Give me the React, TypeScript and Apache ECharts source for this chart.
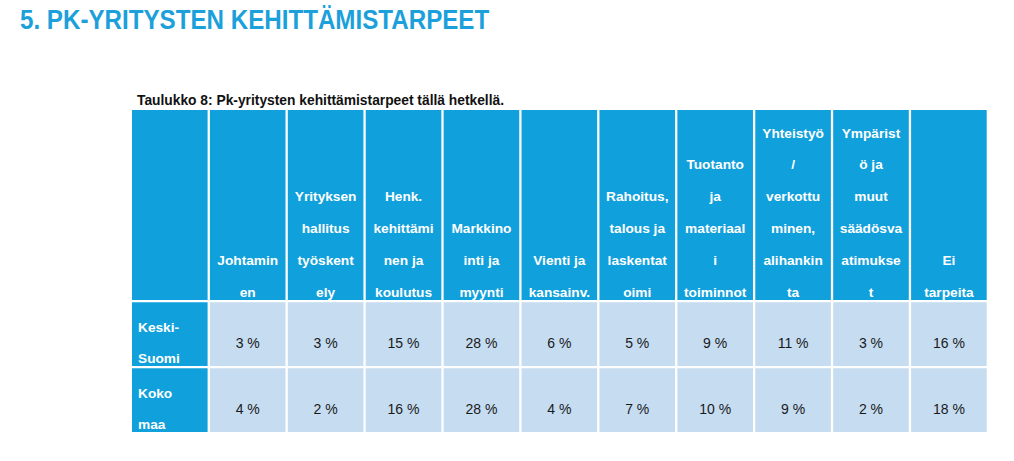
import React, { useEffect, useRef } from "react";
import * as echarts from "echarts";

const TITLE = "5. PK-YRITYSTEN KEHITTÄMISTARPEET";
const CAPTION = "Taulukko 8: Pk-yritysten kehittämistarpeet tällä hetkellä.";

const headers = [
  "Johtamin\nen",
  "Yrityksen\nhallitus\ntyöskent\nely",
  "Henk.\nkehittämi\nnen ja\nkoulutus",
  "Markkino\ninti ja\nmyynti",
  "Vienti ja\nkansainv.",
  "Rahoitus,\ntalous ja\nlaskentat\noimi",
  "Tuotanto\nja\nmateriaal\ni\ntoiminnot",
  "Yhteistyö\n/\nverkottu\nminen,\nalihankin\nta",
  "Ympärist\nö ja\nmuut\nsäädösva\natimukse\nt",
  "Ei\ntarpeita",
];

const rowLabels = ["Keski-\nSuomi", "Koko\nmaa"];
const keskiSuomi = [3, 3, 15, 28, 6, 5, 9, 11, 3, 16];
const kokoMaa = [4, 2, 16, 28, 4, 7, 10, 9, 2, 18];
const rows = [keskiSuomi, kokoMaa];

const HEAD_BLUE = "#10A0DB";
const CELL_BLUE = "#C5DCF1";
const GAP = 2.3;
const FONT = "'Liberation Sans', Arial, sans-serif";

export default function App() {
  const ref = useRef<HTMLDivElement>(null);
  useEffect(() => {
    const chart = echarts.init(ref.current!, null, { renderer: "svg" });
    const columns = ["", ...headers];

    const headerData = columns.map((_, i) => [i, 0]);
    const bodyData: number[][] = [];
    rows.forEach((_, r) => {
      columns.forEach((_, c) => bodyData.push([c, r]));
    });

    chart.setOption({
      animation: false,
      grid: [
        { left: 132, width: 857, top: 110, height: 192.3 },
        { left: 132, width: 857, top: 302.3, height: 132 },
      ],
      xAxis: [
        { type: "category", gridIndex: 0, data: columns, show: false },
        { type: "category", gridIndex: 1, data: columns, show: false },
      ],
      yAxis: [
        { type: "category", gridIndex: 0, data: ["header"], show: false },
        { type: "category", gridIndex: 1, data: rowLabels, inverse: true, show: false },
      ],
      graphic: [
        {
          type: "text",
          x: 20,
          y: 19.5,
          scaleX: 0.863,
          style: {
            text: TITLE,
            fill: "#1BA0DB",
            font: `bold 28px ${FONT}`,
            verticalAlign: "middle",
            align: "left",
          },
        },
        {
          type: "text",
          x: 137,
          y: 100,
          style: {
            text: CAPTION,
            fill: "#111111",
            font: `bold 13.8px ${FONT}`,
            verticalAlign: "middle",
            align: "left",
          },
        },
      ],
      series: [
        {
          type: "custom",
          xAxisIndex: 0,
          yAxisIndex: 0,
          data: headerData,
          renderItem: (params: any, api: any) => {
            const col = api.value(0);
            const c = api.coord([col, 0]);
            const s = api.size([1, 1]);
            const x0 = c[0] - s[0] / 2;
            const y0 = c[1] - s[1] / 2;
            const w = s[0] - GAP;
            const h = s[1] - GAP;
            const label = columns[col];
            return {
              type: "group",
              children: [
                { type: "rect", shape: { x: x0, y: y0, width: w, height: h }, style: { fill: HEAD_BLUE } },
                {
                  type: "text",
                  x: x0 + w / 2,
                  y: y0 + h + 8,
                  style: {
                    text: label,
                    fill: "#ffffff",
                    font: `bold 13.7px ${FONT}`,
                    lineHeight: 31.8,
                    align: "center",
                    verticalAlign: "bottom",
                  },
                },
              ],
            };
          },
        },
        {
          type: "custom",
          xAxisIndex: 1,
          yAxisIndex: 1,
          data: bodyData,
          renderItem: (params: any, api: any) => {
            const col = api.value(0);
            const row = api.value(1);
            const c = api.coord([col, row]);
            const s = api.size([1, 1]);
            const x0 = c[0] - s[0] / 2;
            const y0 = c[1] - s[1] / 2;
            const w = s[0] - GAP;
            const h = s[1] - GAP;
            const isLabel = col === 0;
            const text = isLabel ? rowLabels[row] : `${rows[row][col - 1]} %`;
            return {
              type: "group",
              children: [
                {
                  type: "rect",
                  shape: { x: x0, y: y0, width: w, height: h },
                  style: { fill: isLabel ? HEAD_BLUE : CELL_BLUE },
                },
                {
                  type: "text",
                  x: isLabel ? x0 + 6 : x0 + w / 2,
                  y: y0 + h / 2 + 8.5,
                  style: {
                    text,
                    fill: isLabel ? "#ffffff" : "#1a1a1a",
                    font: isLabel ? `bold 13.7px ${FONT}` : `14px ${FONT}`,
                    lineHeight: 31,
                    align: isLabel ? "left" : "center",
                    verticalAlign: "middle",
                  },
                },
              ],
            };
          },
        },
      ],
    });
    return () => chart.dispose();
  }, []);
  return (
    <div
      ref={ref}
      style={{ position: "fixed", left: 0, top: 0, width: 1014, height: 461, background: "#ffffff" }}
    />
  );
}
